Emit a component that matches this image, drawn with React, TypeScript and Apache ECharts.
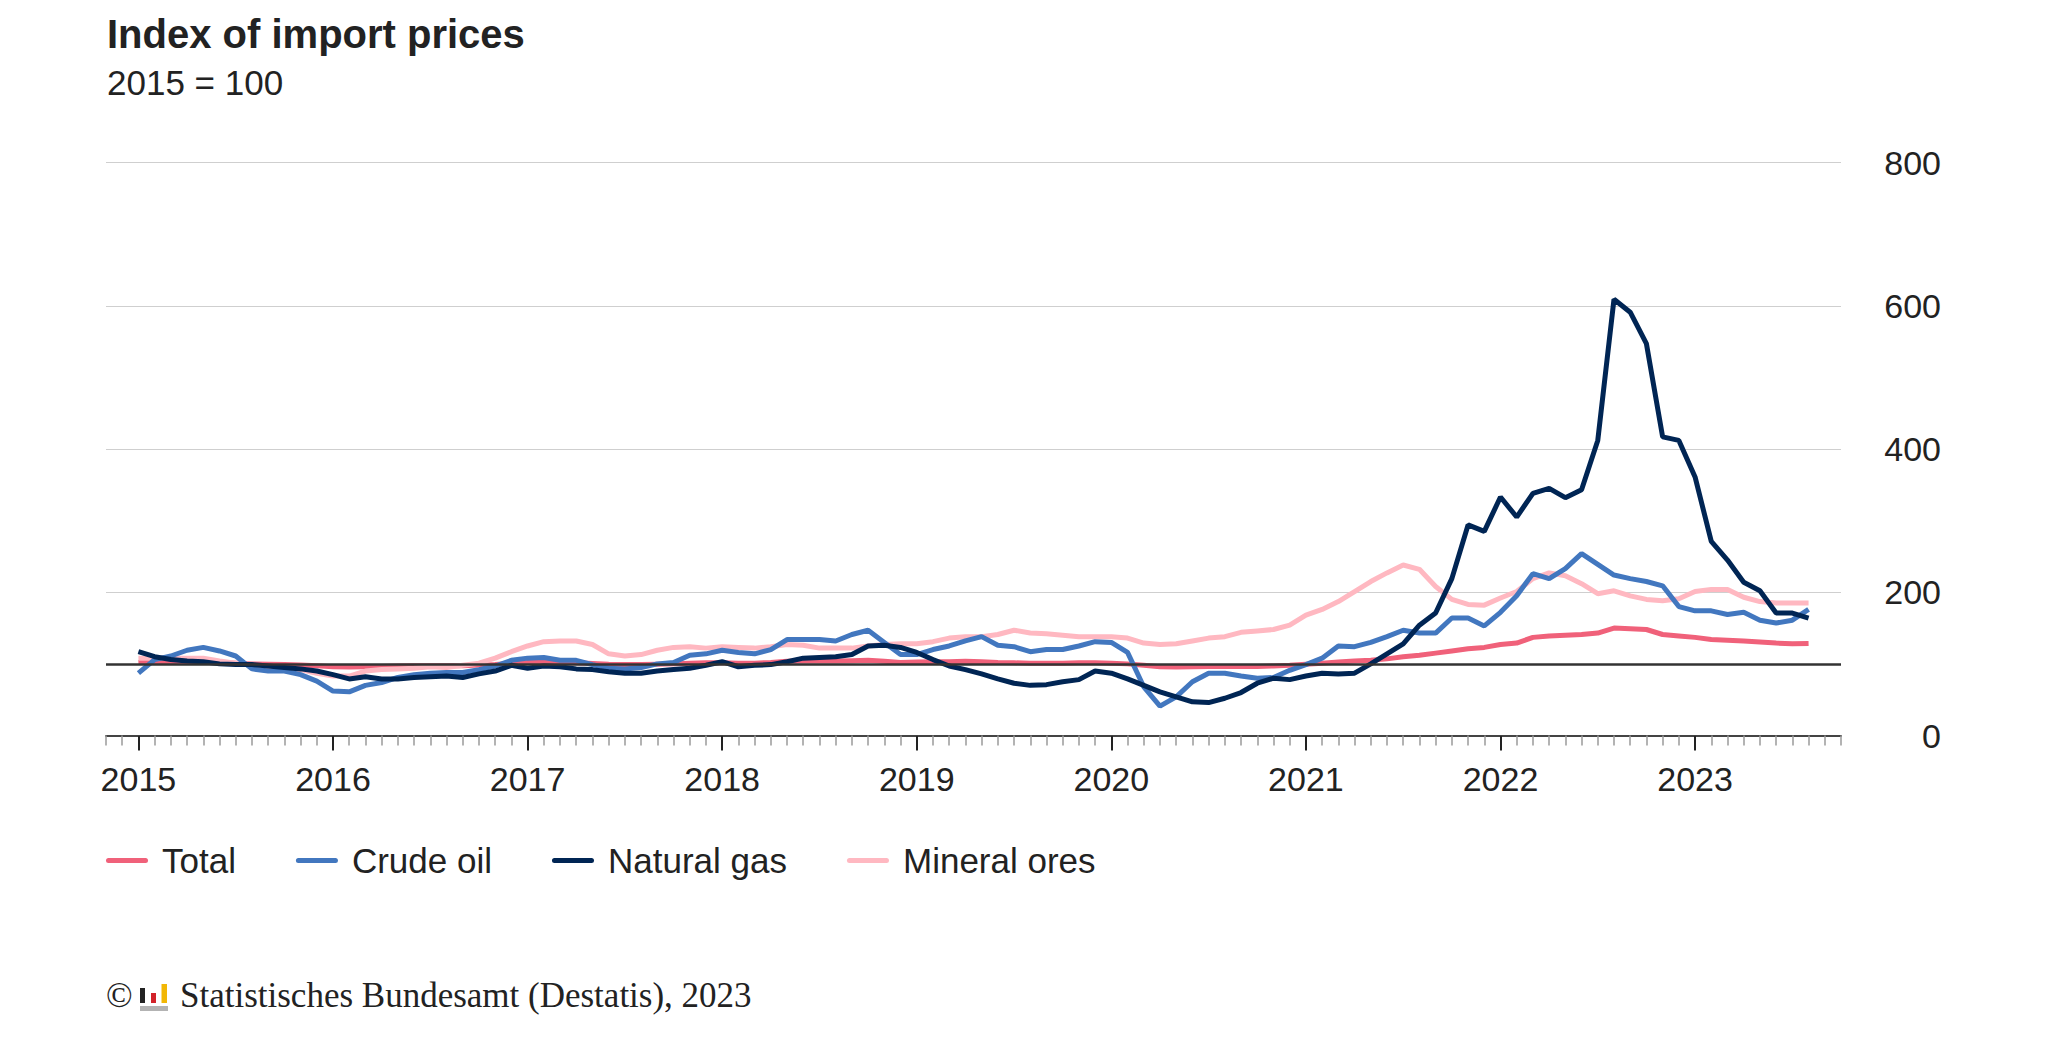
import React, { useEffect, useRef } from "react";
import * as echarts from "echarts";

// Axis spans Nov 2014 .. Oct 2023; data Jan 2015 .. Aug 2023
const AXIS_START = { year: 2014, month: 11 };
const AXIS_MONTHS = 108;
const LEAD_EMPTY = 2;

const seriesNames = ["Total", "Crude oil", "Natural gas", "Mineral ores"];

const total = [
  102, 103, 103, 103, 103, 102, 101, 100, 99.5, 99, 98.5, 97.5,
  96, 95.5, 96, 96.5, 97, 97.5, 97.5, 97.5, 97.5, 98.5, 99, 100.5,
  102, 102.5, 102, 101.5, 100.5, 99.5, 99, 99, 99.5, 100, 101, 101.5,
  101.5, 101, 101, 102, 103.5, 104, 104, 104, 104.5, 105, 103.5, 102,
  102.5, 103, 103, 103.5, 103, 102, 101.5, 101, 101, 101, 101.5, 101.5,
  101, 100, 98, 96, 95.5, 96, 96.5, 96.5, 96.5, 96.5, 97, 98,
  99.5, 101, 102.5, 104, 105, 107, 110, 112, 115, 118, 121, 123,
  127, 129, 137, 139, 140, 141, 143, 150, 149, 148, 141, 139,
  137, 134, 133, 132, 130.5, 129, 128, 128.5,
];

const crudeOil = [
  87, 106, 111, 119, 123, 118, 111, 93, 90, 90, 85, 76,
  62, 61, 70, 74, 81, 85, 87, 88, 88, 92, 97, 105,
  108, 109, 105, 105, 99, 94, 93, 95, 100, 102, 112, 114,
  119, 116, 114, 120, 134, 134, 134, 132, 141, 147, 130, 113,
  113, 120, 125, 132, 138, 126, 124, 117, 120, 120, 125, 131,
  130, 116, 68, 41, 54, 75, 87, 87, 83, 80, 81, 91,
  99, 108, 125, 124, 130, 138, 147, 143, 143, 164, 164, 153,
  172, 195, 226, 219, 233, 254, 239, 224, 219, 215, 209, 180,
  174, 174, 169, 172, 161, 157, 161, 176,
];

const naturalGas = [
  117, 110, 106, 104, 103, 100, 99, 99, 97, 95, 93, 90,
  85, 79, 82, 79, 79, 81, 82, 83, 81, 86, 90, 98,
  94, 97, 96, 93, 92, 89, 87, 87, 90, 92, 94, 98,
  103, 96, 98, 99, 103, 108, 109, 110, 113, 125, 126, 123,
  116, 106, 97, 92, 86, 79, 73, 70, 71, 75, 78, 90,
  87, 79, 70, 61, 54, 47, 46, 52, 60, 73, 80, 78,
  83, 87, 86, 87, 100, 114, 128, 154, 171, 219, 294, 285,
  333, 305, 338, 345, 332, 343, 412, 609, 591, 547, 417, 412,
  361, 271, 245, 214, 202, 171, 171, 164,
];

const mineralOres = [
  108, 108, 108, 108, 108, 104, 101, 98, 96, 94, 92, 87,
  83, 83, 90, 92, 93, 94, 96, 95, 98, 101, 108, 117,
  125, 131, 132, 132, 127, 114, 111, 113, 119, 123, 124, 122,
  124, 123, 122, 124, 127, 126, 122, 122, 122, 125, 127, 128,
  128, 131, 136, 138, 138, 141, 147, 143, 142, 140, 138, 138,
  138, 136, 129, 127, 128, 132, 136, 138, 144, 146, 148, 154,
  168, 176, 187, 201, 215, 227, 238, 232, 208, 190, 183, 182,
  192, 201, 219, 227, 223, 212, 198, 202, 195, 190, 188, 191,
  201, 204, 204, 193, 187, 185, 185, 185,
];

const colors: Record<string, string> = {
  Total: "#F0617A",
  "Crude oil": "#4277BF",
  "Natural gas": "#002554",
  "Mineral ores": "#FFB8C1",
};

function buildCategories(): string[] {
  const out: string[] = [];
  let y = AXIS_START.year;
  let m = AXIS_START.month;
  for (let i = 0; i < AXIS_MONTHS; i++) {
    out.push(`${y}-${String(m).padStart(2, "0")}`);
    m++;
    if (m > 12) {
      m = 1;
      y++;
    }
  }
  return out;
}

function pad(values: number[]): (number | null)[] {
  const out: (number | null)[] = [];
  for (let i = 0; i < LEAD_EMPTY; i++) out.push(null);
  for (const v of values) out.push(v);
  while (out.length < AXIS_MONTHS) out.push(null);
  return out;
}

const FONT = '"Liberation Sans", Arial, sans-serif';
const SERIF = '"Liberation Serif", "Times New Roman", serif';
const CAPSULE = "path://M2.5,0 H39.5 A2.5,2.5 0 0 1 39.5,5 H2.5 A2.5,2.5 0 0 1 2.5,0 Z";

export default function App() {
  const ref = useRef<HTMLDivElement>(null);
  useEffect(() => {
    if (!ref.current) return;
    const chart = echarts.init(ref.current, undefined, { renderer: "svg" });
    const categories = buildCategories();
    const isJan = (_i: number, v: string) => v.endsWith("-01");
    const mk = (name: string, values: number[], extra: any = {}) => ({
      name,
      type: "line",
      data: pad(values),
      symbol: "none",
      showSymbol: false,
      connectNulls: false,
      lineStyle: { color: colors[name], width: 5 },
      itemStyle: { color: colors[name] },
      emphasis: { disabled: true },
      silent: true,
      ...extra,
    });
    chart.setOption({
      animation: false,
      textStyle: { fontFamily: FONT },
      grid: { left: 106, right: 207, top: 162.5, bottom: 315.5, containLabel: false },
      legend: {
        data: seriesNames.map((n) => ({ name: n, icon: CAPSULE, itemStyle: { color: colors[n] } })),
        left: 106,
        top: 843,
        padding: 0,
        itemWidth: 42,
        itemHeight: 5,
        itemGap: 60,
        textStyle: { fontSize: 35, color: "#222", fontFamily: FONT, padding: [0, 0, 0, 9] },
        selectedMode: false,
      },
      xAxis: [
        {
          type: "category",
          position: "bottom",
          data: categories,
          boundaryGap: false,
          axisLine: { show: true, lineStyle: { color: "#444", width: 2 } },
          axisTick: { show: true, interval: 0, length: 10, lineStyle: { color: "#9a9a9a", width: 1.5 } },
          axisLabel: { show: false },
          splitLine: { show: false },
        },
        {
          type: "category",
          position: "bottom",
          offset: 0,
          data: categories,
          boundaryGap: false,
          axisLine: { show: false },
          axisTick: { show: true, interval: isJan, length: 15, lineStyle: { color: "#222", width: 2 } },
          axisLabel: {
            show: true,
            interval: isJan,
            formatter: (v: string) => v.slice(0, 4),
            fontSize: 34,
            color: "#222",
            margin: 26,
          },
          splitLine: { show: false },
        },
      ],
      yAxis: {
        type: "value",
        position: "right",
        min: 0,
        max: 800,
        interval: 200,
        axisLine: { show: false },
        axisTick: { show: false },
        axisLabel: { fontSize: 34, color: "#222", align: "right", margin: 100 },
        splitLine: { lineStyle: { color: "#cfcfcf", width: 1.2 } },
      },
      series: [
        mk("Total", total, {
          markLine: {
            silent: true,
            symbol: ["none", "none"],
            label: { show: false },
            lineStyle: { color: "#333", width: 2.5, type: "solid" },
            emphasis: { disabled: true },
            data: [{ yAxis: 100 }],
          },
        }),
        mk("Mineral ores", mineralOres),
        mk("Crude oil", crudeOil),
        mk("Natural gas", naturalGas),
      ],
      graphic: [
        {
          type: "text",
          left: 107,
          top: 14,
          style: { text: "Index of import prices", fontSize: 40, fontWeight: "bold", fontFamily: FONT, fill: "#222" },
        },
        {
          type: "text",
          left: 107,
          top: 65,
          style: { text: "2015 = 100", fontSize: 35, fontFamily: FONT, fill: "#222" },
        },
        {
          type: "text",
          left: 106,
          top: 978,
          style: { text: "\u00A9", fontSize: 35, fontFamily: SERIF, fill: "#222" },
        },
        { type: "rect", shape: { x: 140, y: 988, width: 5, height: 15 }, style: { fill: "#222" } },
        { type: "rect", shape: { x: 151, y: 993, width: 5, height: 10 }, style: { fill: "#D2232A" } },
        { type: "rect", shape: { x: 161.5, y: 984, width: 5.5, height: 19 }, style: { fill: "#F2B705" } },
        { type: "rect", shape: { x: 140, y: 1006, width: 28, height: 5 }, style: { fill: "#B3B3B3" } },
        {
          type: "text",
          left: 180,
          top: 978,
          style: {
            text: "Statistisches Bundesamt (Destatis), 2023",
            fontSize: 35,
            fontFamily: SERIF,
            fill: "#222",
          },
        },
      ],
    });
    return () => chart.dispose();
  }, []);
  return (
    <div
      ref={ref}
      style={{ position: "absolute", left: 0, top: 0, width: 2048, height: 1051, background: "#fff" }}
    />
  );
}
